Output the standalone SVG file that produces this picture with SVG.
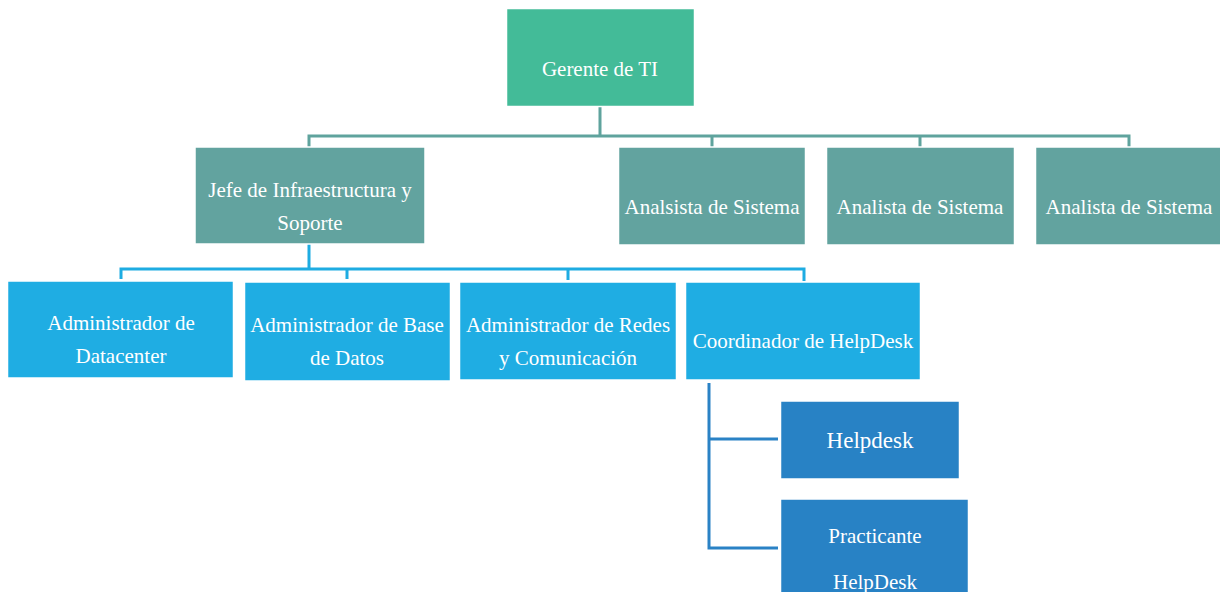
<svg xmlns="http://www.w3.org/2000/svg" width="1220" height="592" viewBox="0 0 1220 592">
<style>
.box{stroke:#ffffff;stroke-width:1.5}
.l1{fill:#43BB98}
.l2{fill:#62A39F}
.l3{fill:#1FADE3}
.l4{fill:#2882C5}
text{font-family:'Liberation Serif','DejaVu Serif',serif;font-size:21px;fill:#ffffff;text-anchor:middle;dominant-baseline:central}
.c{fill:none;stroke-width:3;stroke-linejoin:miter}
.c1{stroke:#5FA39D}
.c2{stroke:#1EACE2}
.c3{stroke:#2A82C5}
</style>
<rect width="1220" height="592" fill="#ffffff"/>
<g id="connectors">
<path class="c c1" d="M600,106 V136 M309,147 V136 H1129 V147 M712,136 V147 M920,136 V147"/>
<path class="c c2" d="M309,243 V269 M121,279 V269 H804 V281 M347,269 V279 M568,269 V280"/>
<path class="c c3" d="M709,383 V548 H778 M709,439 H778"/>
</g>
<g font-family="Liberation Serif, serif">
<g id="gerente"><rect class="box l1" x="506.5" y="8.5" width="188" height="98"/><text x="600" y="69">Gerente de TI</text></g>
<g id="jefe"><rect class="box l2" x="195" y="147" width="230" height="97"/><text x="310" y="190">Jefe de Infraestructura y</text><text x="310" y="223">Soporte</text></g>
<g id="analista1"><rect class="box l2" x="618.5" y="147" width="187" height="98"/><text x="712" y="207">Analsista de Sistema</text></g>
<g id="analista2"><rect class="box l2" x="826.5" y="147" width="188" height="98"/><text x="920" y="207">Analista de Sistema</text></g>
<g id="analista3"><rect class="box l2" x="1035.5" y="147" width="186" height="98"/><text x="1129" y="207">Analista de Sistema</text></g>
<g id="adm-datacenter"><rect class="box l3" x="7.5" y="281" width="226" height="97"/><text x="121" y="323">Administrador de</text><text x="121" y="356">Datacenter</text></g>
<g id="adm-bd"><rect class="box l3" x="244.5" y="282" width="206" height="99"/><text x="347" y="325">Administrador de Base</text><text x="347" y="358">de Datos</text></g>
<g id="adm-redes"><rect class="box l3" x="459.5" y="282" width="217" height="98"/><text x="568" y="325">Administrador de Redes</text><text x="568" y="358">y Comunicación</text></g>
<g id="coord-helpdesk"><rect class="box l3" x="685.5" y="282" width="235" height="98"/><text x="803" y="341">Coordinador de HelpDesk</text></g>
<g id="helpdesk"><rect class="box l4" x="780.5" y="401" width="179" height="78"/><text x="870" y="440" style="font-size:23px">Helpdesk</text></g>
<g id="practicante"><rect class="box l4" x="780.5" y="499" width="188" height="100"/><text x="875" y="536">Practicante</text><text x="875" y="582">HelpDesk</text></g>
</g>
</svg>
